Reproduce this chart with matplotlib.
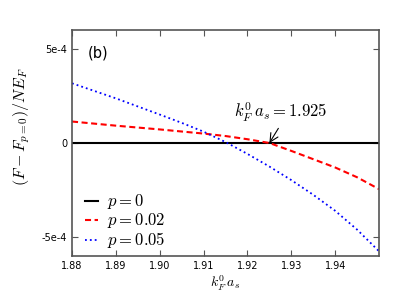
import matplotlib
matplotlib.use('Agg')
import matplotlib.pyplot as plt

plt.rcParams['mathtext.fontset'] = 'cm'
plt.rcParams['font.family'] = 'DejaVu Sans'

# kF0 * as grid
x = [1.88, 1.885, 1.89, 1.895, 1.90, 1.905, 1.91, 1.915, 1.92, 1.925,
     1.93, 1.935, 1.94, 1.945, 1.95]
# (F - F_{p=0}) / N E_F
y_p0 = [0.0] * len(x)
y_p002 = [1.14e-4, 1.03e-4, 0.92e-4, 0.82e-4, 0.72e-4, 0.61e-4, 0.50e-4, 0.37e-4,
          0.20e-4, 0.0, -0.42e-4, -0.86e-4, -1.30e-4, -1.82e-4, -2.45e-4]
y_p005 = [3.17e-4, 2.77e-4, 2.37e-4, 1.94e-4, 1.51e-4, 1.07e-4, 0.60e-4, 0.05e-4,
          -0.58e-4, -1.25e-4, -1.97e-4, -2.75e-4, -3.60e-4, -4.60e-4, -5.75e-4]

xticks = [1.88, 1.89, 1.90, 1.91, 1.92, 1.93, 1.94]
xtick_labels = ['1.88', '1.89', '1.90', '1.91', '1.92', '1.93', '1.94']
yticks = [-5e-4, 0, 5e-4]
ytick_labels = ['-5e-4', '0', '5e-4']

fig = plt.figure(figsize=(3.99, 2.99), dpi=100)
ax = fig.add_axes([0.1805, 0.1438, 0.7695, 0.7559])

ax.plot(x, y_p0, color='black', linewidth=1.5, label=r'$p=0$')
ax.plot(x, y_p002, color='red', linewidth=1.5, linestyle=(0, (2.9, 1.7)), label=r'$p=0.02$')
ax.plot(x, y_p005, color='blue', linewidth=1.3, linestyle=(0, (1, 1.7)), label=r'$p=0.05$')

ax.set_xlim(1.88, 1.95)
ax.set_ylim(-6e-4, 6e-4)
ax.set_xticks(xticks)
ax.set_xticklabels(xtick_labels)
ax.set_yticks(yticks)
ax.set_yticklabels(ytick_labels)
ax.tick_params(direction='in', top=True, right=True, length=4, labelsize=7, color='#555555')
for s in ax.spines.values():
    s.set_color('#555555')
    s.set_linewidth(1.2)

ax.set_xlabel(r'$k_F^0\,a_s$', fontsize=10, labelpad=2)
ax.set_ylabel(r'$(F-F_{p=0})/NE_F$', fontsize=11.5)
ax.yaxis.set_label_coords(-0.13, 0.571)

ax.text(0.05, 0.93, '(b)', transform=ax.transAxes, fontsize=10.5, va='top', ha='left')

ax.annotate(r'$k_F^0\,a_s=1.925$', xy=(1.925, 0), xytext=(1.9276, 1.6e-4),
            ha='center', va='center', fontsize=12,
            arrowprops=dict(arrowstyle='->, head_length=0.5, head_width=0.25', color='black',
                            lw=0.8, relpos=(0.5, 0.0), shrinkA=1, shrinkB=0))

ax.legend(loc='lower left', frameon=False, fontsize=12, handlelength=0.8,
          handletextpad=0.55, labelspacing=0.0, borderaxespad=0.0,
          bbox_to_anchor=(0.02, -0.005))

fig.savefig('out.png', dpi=100)
